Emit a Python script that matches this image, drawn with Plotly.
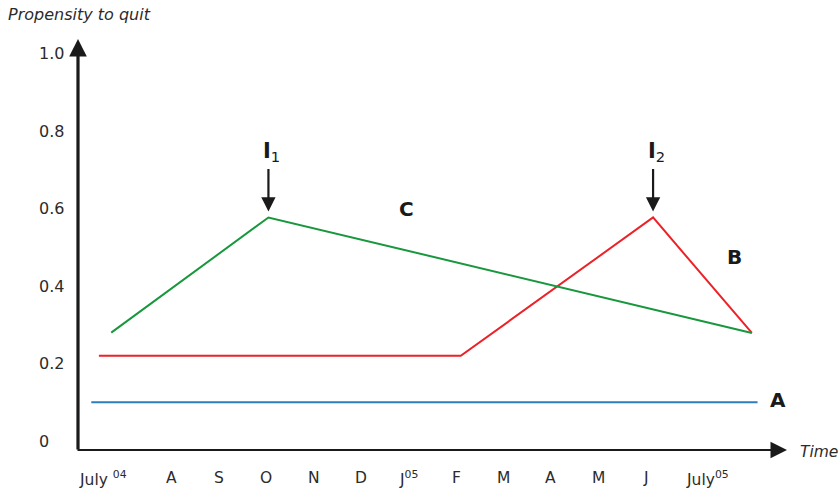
import plotly.graph_objects as go

# ---- data (x in months from July 2004 = 0) ----
month_labels = ["July <sup>04</sup>", "A", "S", "O", "N", "D", "J<sup>05</sup>",
                "F", "M", "A", "M", "J", "July<sup>05</sup>"]
month_pos = list(range(13))

y_tick_vals = [0, 0.2, 0.4, 0.6, 0.8, 1.0]
y_tick_text = ["0", "0.2", "0.4", "0.6", "0.8", "1.0"]

a_x = [-0.68, 13.35]
a_y = [0.10, 0.10]

b_x = [-0.52, 7.1, 11.15, 13.23]
b_y = [0.220, 0.220, 0.577, 0.279]

c_x = [-0.26, 3.05, 13.23]
c_y = [0.280, 0.577, 0.279]

FONT = "DejaVu Sans, Verdana, sans-serif"
TXT = "#2b2b2b"

fig = go.Figure()
fig.add_trace(go.Scatter(x=a_x, y=a_y, mode="lines", line=dict(color="#2e7ebd", width=2), hoverinfo="skip"))
fig.add_trace(go.Scatter(x=b_x, y=b_y, mode="lines", line=dict(color="#ec2227", width=2), hoverinfo="skip"))
fig.add_trace(go.Scatter(x=c_x, y=c_y, mode="lines", line=dict(color="#18973d", width=2), hoverinfo="skip"))

ann = []
# axes with arrowheads
ann.append(dict(xref="paper", yref="paper", x=0, y=1, ax=0, ay=412, text="", showarrow=True,
                arrowhead=2, arrowsize=1.1, arrowwidth=3.2, arrowcolor="#1a1a1a", standoff=0))
ann.append(dict(xref="paper", yref="paper", x=1, y=0, ax=-711, ay=0, text="", showarrow=True,
                arrowhead=2, arrowsize=1.5, arrowwidth=2.2, arrowcolor="#1a1a1a", standoff=0))

# y tick labels (left aligned)
for v, t in zip(y_tick_vals, y_tick_text):
    ann.append(dict(xref="paper", yref="y", x=0, y=v, xshift=-41, xanchor="left", yanchor="middle",
                    text=t, showarrow=False, font=dict(family=FONT, size=16, color=TXT)))

# x tick labels
shifts = {0: -21, 12: 14}
for p, t in zip(month_pos, month_labels):
    ann.append(dict(xref="x", yref="paper", x=p, y=0, yshift=-28, xshift=shifts.get(p, 0),
                    xanchor="center", yanchor="middle", text=t, showarrow=False,
                    font=dict(family=FONT, size=15.5, color=TXT)))

# titles
ann.append(dict(xref="paper", yref="paper", x=0, y=1, xshift=-72, yshift=25, xanchor="left", yanchor="middle",
                text="<i>Propensity to quit</i>", showarrow=False, font=dict(family=FONT, size=16, color=TXT)))
ann.append(dict(xref="paper", yref="paper", x=1, y=0, xshift=11, yshift=-2, xanchor="left", yanchor="middle",
                text="<i>Time</i>", showarrow=False, font=dict(family=FONT, size=15.5, color=TXT)))

# series letters
LFONT = dict(family=FONT, size=20, color="#1a1a1a")
ann.append(dict(xref="x", yref="y", x=5.95, y=0.60, text="<b>C</b>", showarrow=False,
                xanchor="center", yanchor="middle", font=LFONT))
ann.append(dict(xref="x", yref="y", x=12.86, y=0.475, text="<b>B</b>", showarrow=False,
                xanchor="center", yanchor="middle", font=LFONT))
ann.append(dict(xref="paper", yref="y", x=1, y=0.105, xshift=-9, text="<b>A</b>", showarrow=False,
                xanchor="center", yanchor="middle", font=LFONT))

# intervention arrows
for px, py, lab in [(3.05, 0.577, "1"), (11.15, 0.577, "2")]:
    ann.append(dict(xref="x", yref="y", x=px, y=py, ax=0, ay=-50, text="", showarrow=True,
                    arrowhead=2, arrowsize=1.3, arrowwidth=2.2, arrowcolor="#1a1a1a", standoff=6))
    ann.append(dict(xref="x", yref="y", x=px, y=0.745, xanchor="left", yanchor="middle", xshift=-7,
                    text="<b>I</b><sub>%s</sub>" % lab, showarrow=False,
                    font=dict(family=FONT, size=21, color="#1a1a1a")))

fig.update_layout(
    width=838, height=490,
    margin=dict(l=78, r=51, t=39, b=40),
    paper_bgcolor="white", plot_bgcolor="white",
    showlegend=False,
    annotations=ann,
    xaxis=dict(range=[-0.96, 13.97], showgrid=False, zeroline=False, showticklabels=False,
               showline=False, fixedrange=True),
    yaxis=dict(range=[-0.023, 1.0375], showgrid=False, zeroline=False, showticklabels=False,
               showline=False, fixedrange=True),
)

fig.write_html("out.html", config={"displayModeBar": False},
               post_script="document.body.style.margin='0';document.body.style.overflow='hidden';")
